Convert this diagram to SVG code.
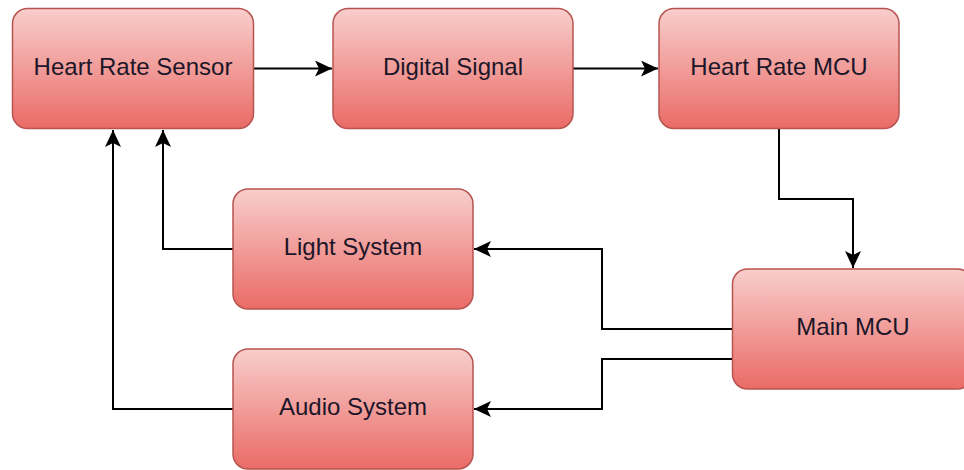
<svg xmlns="http://www.w3.org/2000/svg" width="964" height="470" viewBox="0 0 964 470">
  <style>
    .node rect { fill: url(#redGrad); stroke: #b85450; stroke-width: 1.5; }
    .node text { font-family: "Liberation Sans", Arial, sans-serif; font-size: 24px; fill: #1c1628; text-anchor: middle; }
    .edge { fill: none; stroke: #000; stroke-width: 2; marker-end: url(#arrow); }
  </style>
  <defs>
    <linearGradient id="redGrad" x1="0" y1="0" x2="0" y2="1">
      <stop offset="0" stop-color="#f8cecc"/>
      <stop offset="1" stop-color="#ea6b66"/>
    </linearGradient>
    <marker id="arrow" markerUnits="userSpaceOnUse" viewBox="0 0 17 16" refX="17" refY="8" markerWidth="17" markerHeight="16" orient="auto">
      <path d="M0 0 L17 8 L0 16 L4 8 Z" fill="#000"/>
    </marker>
  </defs>
  <rect width="964" height="470" fill="#fff"/>
  <g id="connectors">
    <path class="edge" d="M254 68.5 H332"/>
    <path class="edge" d="M573 68.5 H658"/>
    <path class="edge" d="M779 129 V199 H853 V268"/>
    <path class="edge" d="M732 329 H602 V249 H474"/>
    <path class="edge" d="M732 359 H602 V409 H474"/>
    <path class="edge" d="M233 249 H163 V130"/>
    <path class="edge" d="M233 409 H113 V130"/>
  </g>
  <g id="heart-rate-sensor" class="node">
    <rect x="12.5" y="8.5" width="241" height="120" rx="15" ry="15"/>
    <text x="133" y="75">Heart Rate Sensor</text>
  </g>
  <g id="digital-signal" class="node">
    <rect x="333" y="8.5" width="240" height="120" rx="15" ry="15"/>
    <text x="453" y="75">Digital Signal</text>
  </g>
  <g id="heart-rate-mcu" class="node">
    <rect x="659" y="8.5" width="240" height="120" rx="15" ry="15"/>
    <text x="779" y="75">Heart Rate MCU</text>
  </g>
  <g id="light-system" class="node">
    <rect x="233" y="189" width="240" height="120" rx="15" ry="15"/>
    <text x="353" y="255">Light System</text>
  </g>
  <g id="main-mcu" class="node">
    <rect x="732.5" y="269" width="240" height="120" rx="15" ry="15"/>
    <text x="853" y="335">Main MCU</text>
  </g>
  <g id="audio-system" class="node">
    <rect x="233" y="349" width="240" height="120" rx="15" ry="15"/>
    <text x="353" y="415">Audio System</text>
  </g>
</svg>
